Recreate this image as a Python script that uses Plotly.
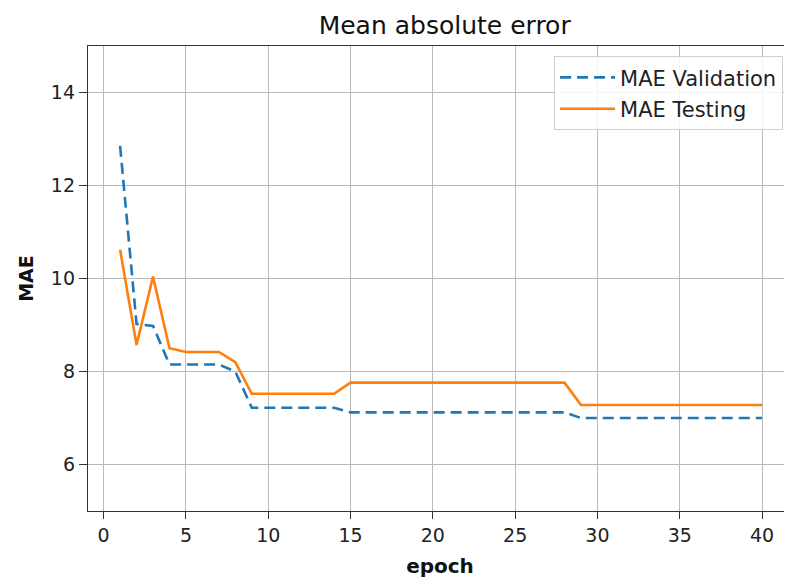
import plotly.graph_objects as go

epochs = list(range(1, 41))
mae_validation = [12.85, 9.02, 8.98, 8.15, 8.15, 8.15, 8.15, 8.0,
                  7.22, 7.22, 7.22, 7.22, 7.22, 7.22,
                  7.12, 7.12, 7.12, 7.12, 7.12, 7.12, 7.12, 7.12, 7.12, 7.12, 7.12, 7.12, 7.12, 7.12,
                  7.0, 7.0, 7.0, 7.0, 7.0, 7.0, 7.0, 7.0, 7.0, 7.0, 7.0, 7.0]
mae_testing = [10.62, 8.57, 10.04, 8.5, 8.42, 8.42, 8.42, 8.2,
               7.52, 7.52, 7.52, 7.52, 7.52, 7.52,
               7.76, 7.76, 7.76, 7.76, 7.76, 7.76, 7.76, 7.76, 7.76, 7.76, 7.76, 7.76, 7.76, 7.76,
               7.28, 7.28, 7.28, 7.28, 7.28, 7.28, 7.28, 7.28, 7.28, 7.28, 7.28, 7.28]
x_ticks = [0, 5, 10, 15, 20, 25, 30, 35, 40]
y_ticks = [6, 8, 10, 12, 14]

FONT = "DejaVu Sans"

fig = go.Figure()
fig.add_trace(go.Scatter(x=epochs, y=mae_validation, mode="lines", name="MAE Validation",
                         legendgroup="v",
                         line=dict(color="#1f77b4", width=2.6, dash="11px,6px")))
fig.add_trace(go.Scatter(x=epochs, y=mae_testing, mode="lines", name="MAE Testing",
                         legendgroup="t",
                         line=dict(color="#ff7f0e", width=2.6)))

# page body has an 8px margin; figure is sized to fill the remaining window
fig.update_layout(
    width=784, height=571,
    margin=dict(l=80, r=0, t=38, b=68),
    paper_bgcolor="white", plot_bgcolor="white",
    font=dict(family=FONT, size=19, color="#222222"),
    title=dict(text="Mean absolute error", x=0.557, xanchor="center", y=0.970, yanchor="middle",
               font=dict(family=FONT, size=25, color="#111111"), automargin=False),
    showlegend=True,
    legend=dict(x=0.662, y=0.978, xanchor="left", yanchor="top",
                bgcolor="rgba(255,255,255,0.85)", bordercolor="#d0d0d0", borderwidth=1,
                font=dict(family=FONT, size=21, color="#222222"),
                itemwidth=55, tracegroupgap=1),
    xaxis=dict(range=[-0.95, 41.82], tickvals=x_ticks, showgrid=True, gridcolor="#b8b8b8", gridwidth=1.3,
               zeroline=False, showline=True, linecolor="#333333", linewidth=1.3, mirror=True,
               ticks="outside", ticklen=7, tickwidth=1.3, tickcolor="#333333", automargin=False,
               tickfont=dict(family=FONT, size=19, color="#222222"),
               title=dict(text="<b>epoch</b>", font=dict(family=FONT, size=20, color="#111111"), standoff=14)),
    yaxis=dict(range=[5, 15], tickvals=y_ticks, showgrid=True, gridcolor="#b8b8b8", gridwidth=1.3,
               zeroline=False, showline=True, linecolor="#333333", linewidth=1.3,
               ticks="outside", ticklen=8, tickwidth=1.3, tickcolor="#333333", automargin=False,
               tickfont=dict(family=FONT, size=19, color="#222222"),
               title=dict(text="<b>MAE</b>", font=dict(family=FONT, size=19, color="#111111"), standoff=12)),
)

fig.write_html("out.html")
